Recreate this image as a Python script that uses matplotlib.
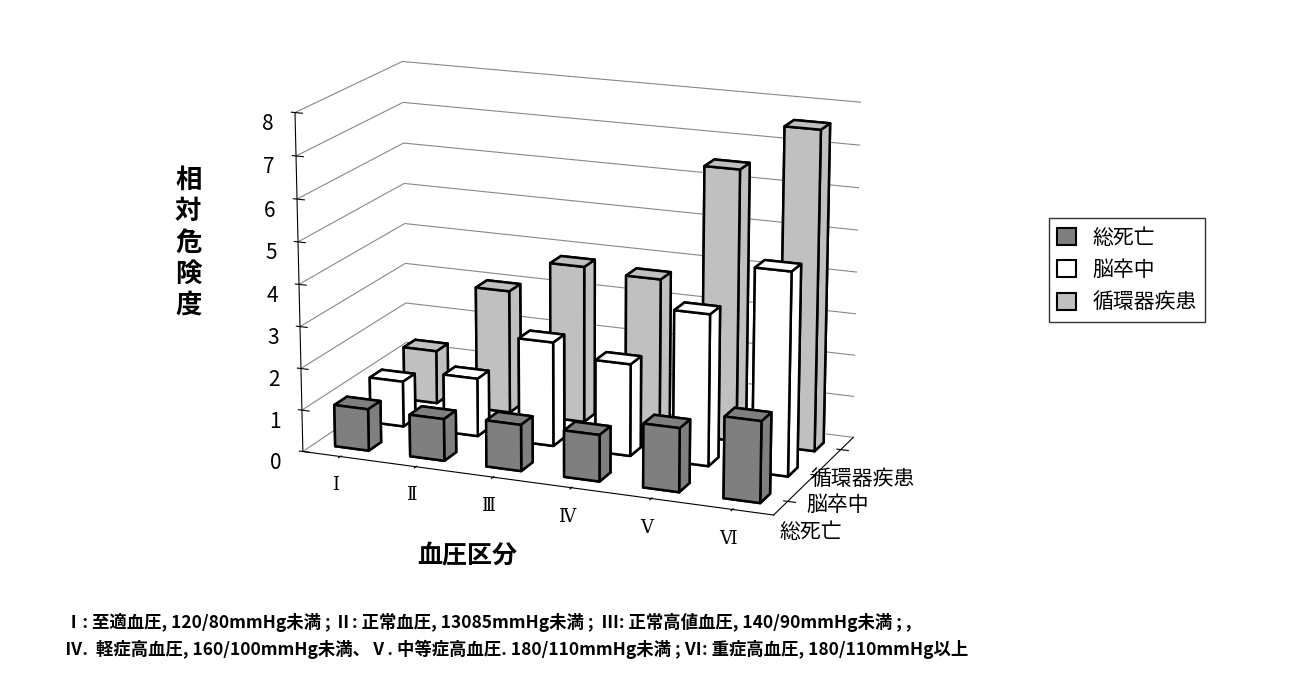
import matplotlib
matplotlib.use("Agg")
import matplotlib.pyplot as plt
import numpy as np
from matplotlib.patches import Patch

plt.rcParams["font.family"] = ["Noto Sans CJK JP", "DejaVu Sans"]

categories = ["Ⅰ", "Ⅱ", "Ⅲ", "Ⅳ", "Ⅴ", "Ⅵ"]
series_names = ["総死亡", "脳卒中", "循環器疾患"]
total_death = [1.0, 1.0, 1.1, 1.1, 1.5, 1.9]
stroke = [1.1, 1.4, 2.5, 2.2, 3.6, 4.8]
cardio = [1.3, 3.0, 3.8, 3.7, 6.5, 7.6]
series_values = [total_death, stroke, cardio]
colors = ["#7f7f7f", "#ffffff", "#c0c0c0"]

fig = plt.figure(figsize=(12.98, 6.75), dpi=100)
ax = fig.add_axes([0.14, 0.1, 0.6, 0.95], projection="3d")

dx, dy = 0.45, 0.35
for j in range(len(series_names))[::-1]:
    for i, v in enumerate(series_values[j]):
        ax.bar3d(i - dx / 2, j - dy / 2, 0, dx, dy, v,
                 color=colors[j], edgecolor="black", linewidth=1.8, shade=False)

ax.set_xlim(-0.5, 5.5)
ax.set_ylim(-0.5, 2.5)
ax.set_zlim(0, 8)
ax.set_box_aspect((3.0, 1.5, 2.1))
ax.view_init(elev=16, azim=-68)
ax.zaxis._axinfo["juggled"] = (1, 2, 0)

ax.set_xticks(range(len(categories)))
ax.set_xticklabels(categories, fontsize=13, family=["DejaVu Serif"])
ax.set_yticks(range(len(series_names)))
ax.set_yticklabels(series_names, fontsize=15)
ax.set_zticks(range(9))
ax.set_zticklabels([str(t) for t in range(9)], fontsize=15, style="italic")

for a in (ax.xaxis, ax.yaxis, ax.zaxis):
    a.set_pane_color((1, 1, 1, 1))
    a._axinfo["grid"]["color"] = "#888888"
    a._axinfo["grid"]["linewidth"] = 0.8
ax.xaxis._axinfo["grid"]["linewidth"] = 0
ax.yaxis._axinfo["grid"]["linewidth"] = 0

fig.text(0.145, 0.64, "相\n対\n危\n険\n度", fontsize=19, fontweight="bold",
         ha="center", va="center", linespacing=1.2)
fig.text(0.36, 0.165, "血圧区分", fontsize=18, fontweight="bold", ha="center")

handles = [Patch(facecolor=c, edgecolor="black", linewidth=1.5) for c in colors]
fig.legend(handles, series_names, loc="center left", bbox_to_anchor=(0.8, 0.6),
           fontsize=15, frameon=True, edgecolor="black", fancybox=False,
           handlelength=0.9, handleheight=0.9)

fig.text(0.05, 0.03,
         "Ⅰ: 至適血圧, 120/80mmHg未満 ; Ⅱ: 正常血圧, 13085mmHg未満 ;  Ⅲ: 正常高値血圧, 140/90mmHg未満 ; ,\n"
         "Ⅳ.  軽症高血圧, 160/100mmHg未満、Ⅴ. 中等症高血圧. 180/110mmHg未満 ; Ⅵ: 重症高血圧, 180/110mmHg以上",
         fontsize=12.5, fontweight="bold", linespacing=1.5)

fig.savefig("out.png", dpi=100)
